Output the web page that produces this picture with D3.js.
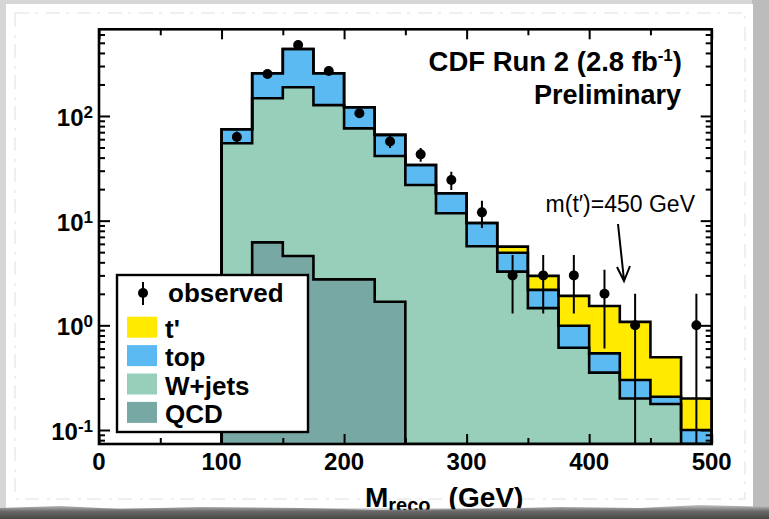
<!DOCTYPE html>
<html>
<head>
<meta charset="utf-8">
<script src="https://cdn.jsdelivr.net/npm/d3@7"></script>
<style>
  body { margin: 0; background: #d4d4d4; }
  svg { display: block; font-family: "Liberation Sans", Arial, sans-serif; }
</style>
</head>
<body>
<div class="chart"></div>
<script>
// Reconstructed mass histogram, 25 GeV bins from 100 to 500 GeV
var binLow = [100, 125, 150, 175, 200, 225, 250, 275, 300, 325, 350, 375, 400, 425, 450, 475];
var binWidth = 25;

// Stacked contributions per bin (events)
var qcd    = [1.5, 6.2, 4.6, 2.75, 2.75, 1.68, 0, 0, 0, 0, 0, 0, 0, 0, 0, 0];
var wjets  = [53.3, 141.3, 183.4, 124.3, 73.3, 39.8, 21.9, 11.75, 5.7, 3.26, 1.46, 0.61, 0.353, 0.20, 0.177, 0.05];
var topQ   = [19.8, 108.5, 248, 129, 45, 24.5, 12.1, 6.55, 3.8, 1.68, 0.72, 0.38, 0.187, 0.10, 0.031, 0.05];
var tprime = [0, 0, 0, 0, 0, 0, 0, 0, 0, 0.71, 0.79, 0.92, 0.99, 0.78, 0.287, 0.10];

// Observed data and error bars (null = no entry)
var observed = [63, 252, 477, 269, 106, 57, 43, 24.5, 12, 3, 3, 3, 2, 1, null, 1];
var obsErr   = [7.9, 15.9, 21.8, 16.4, 10.3, 7.5, 6.5, 4.9, 3.5, 1.7, 1.7, 1.7, 1.4, 1.0, 0, 1.0];

// Axis ticks
var xTicks = [0, 100, 200, 300, 400, 500];
var xMinor = [50, 150, 250, 350, 450];
var yDecades = [-1, 0, 1, 2];

var layerKeys = ["qcd", "wjets", "top", "tprime"];
var layerColors = { qcd: "#78a8a4", wjets: "#97cfba", top: "#5cbaf2", tprime: "#ffea00" };
var legendItems = [
  { key: "tprime", label: "t'" },
  { key: "top", label: "top" },
  { key: "wjets", label: "W+jets" },
  { key: "qcd", label: "QCD" }
];

var svgWidth = 769;
var svgHeight = 519;
var margin = { top: 29.3, right: 57.3, bottom: 75, left: 99 };
var chartWidth = svgWidth - margin.left - margin.right;
var chartHeight = svgHeight - margin.top - margin.bottom;

var svg = d3.select(".chart")
            .append("svg")
            .attr("width", svgWidth)
            .attr("height", svgHeight);

// Paper background with a rough dark edge
var defs = svg.append("defs");
var grad = defs.append("linearGradient").attr("id", "edge").attr("x1", 0).attr("x2", 0).attr("y1", 0).attr("y2", 1);
grad.append("stop").attr("offset", "0%").attr("stop-color", "#c4c4c4");
grad.append("stop").attr("offset", "45%").attr("stop-color", "#6a6a6a");
grad.append("stop").attr("offset", "100%").attr("stop-color", "#474747");
svg.append("rect").attr("width", svgWidth).attr("height", svgHeight).attr("fill", "#d6d6d6");
svg.append("rect").attr("x", 752).attr("y", 0).attr("width", 17).attr("height", svgHeight).attr("fill", "#bcbcbc");
svg.append("rect").attr("x", 6).attr("y", 4).attr("width", 747).attr("height", 504).attr("fill", "#fff");
svg.append("rect").attr("x", 15).attr("y", 13).attr("width", 730).attr("height", 486)
   .attr("fill", "none").attr("stroke", "#e0e0e0").attr("stroke-width", 1).attr("stroke-dasharray", "14 6 3 8");

var chartGroup = svg.append("g")
                    .attr("transform", `translate(${margin.left}, ${margin.top})`);

// Scales
var xScale = d3.scaleLinear().domain([0, 500]).range([0, chartWidth]);
var yMin = 0.0735;
var yScale = d3.scaleLog().domain([yMin, 673]).range([chartHeight, 0]).clamp(true);
function yPos(v) { return yScale(Math.max(v || 0, yMin)); }

// Build stacked layers
var rows = binLow.map(function (lo, i) {
  return { lo: lo, qcd: qcd[i], wjets: wjets[i], top: topQ[i], tprime: tprime[i] };
});
var stacked = d3.stack().keys(layerKeys)(rows);

var clip = defs.append("clipPath").attr("id", "plotclip");
clip.append("rect").attr("width", chartWidth).attr("height", chartHeight);

var histGroup = chartGroup.append("g").attr("clip-path", "url(#plotclip)");

// Step points for each layer
function stepPoints(layer) {
  var pts = [];
  layer.forEach(function (d) {
    pts.push({ x: d.data.lo, y0: d[0], y1: d[1] });
    pts.push({ x: d.data.lo + binWidth, y0: d[0], y1: d[1] });
  });
  return pts;
}

var area = d3.area()
             .x(d => xScale(d.x))
             .y0(d => yPos(d.y0))
             .y1(d => yPos(d.y1));

var line = d3.line()
             .x(d => xScale(d.x))
             .y(d => yPos(d.y1));

stacked.forEach(function (layer) {
  histGroup.append("path")
           .datum(stepPoints(layer))
           .attr("fill", layerColors[layer.key])
           .attr("d", area);
});

stacked.forEach(function (layer) {
  var pts = stepPoints(layer);
  var first = pts[0].x;
  var last = pts[pts.length - 1].x;
  pts.unshift({ x: first, y1: 0 });
  pts.push({ x: last, y1: 0 });
  histGroup.append("path")
           .datum(pts)
           .attr("fill", "none")
           .attr("stroke", "#000")
           .attr("stroke-width", 2.6)
           .attr("stroke-linejoin", "miter")
           .attr("d", line);
});

// Observed points with error bars
var obsData = binLow.map(function (lo, i) {
  return { x: lo + binWidth / 2, v: observed[i], e: obsErr[i] };
}).filter(d => d.v !== null);

histGroup.selectAll(".errbar")
         .data(obsData)
         .enter()
         .append("line")
         .attr("class", "errbar")
         .attr("x1", d => xScale(d.x))
         .attr("x2", d => xScale(d.x))
         .attr("y1", d => yPos(d.v + d.e))
         .attr("y2", d => yPos(d.v - d.e))
         .attr("stroke", "#000")
         .attr("stroke-width", 2);

histGroup.selectAll(".obs")
         .data(obsData)
         .enter()
         .append("circle")
         .attr("class", "obs")
         .attr("cx", d => xScale(d.x))
         .attr("cy", d => yPos(d.v))
         .attr("r", 5)
         .attr("fill", "#000");

// Axes: major and minor ticks on all four sides, pointing inward
var yMinor = [];
yDecades.concat([-2]).forEach(function (dec) {
  for (var m = 2; m <= 9; m++) {
    var v = m * Math.pow(10, dec);
    if (v > yMin && v < 673) yMinor.push(v);
  }
});
var yMajor = yDecades.map(d => Math.pow(10, d));

function addAxis(axisFn, scale, values, size, transform) {
  var g = chartGroup.append("g")
                    .attr("transform", transform)
                    .call(axisFn(scale).tickValues(values).tickSize(size).tickFormat(""));
  g.select(".domain").remove();
  g.selectAll("line").attr("stroke", "#000").attr("stroke-width", 2);
}
addAxis(d3.axisBottom, xScale, xTicks, -10, `translate(0, ${chartHeight})`);
addAxis(d3.axisBottom, xScale, xMinor, -6, `translate(0, ${chartHeight})`);
addAxis(d3.axisTop, xScale, xTicks, -10, "translate(0, 0)");
addAxis(d3.axisTop, xScale, xMinor, -6, "translate(0, 0)");
addAxis(d3.axisLeft, yScale, yMajor, -11, "translate(0, 0)");
addAxis(d3.axisLeft, yScale, yMinor, -6, "translate(0, 0)");
addAxis(d3.axisRight, yScale, yMajor, -11, `translate(${chartWidth}, 0)`);
addAxis(d3.axisRight, yScale, yMinor, -6, `translate(${chartWidth}, 0)`);

// Frame
chartGroup.append("rect")
          .attr("width", chartWidth)
          .attr("height", chartHeight)
          .attr("fill", "none")
          .attr("stroke", "#000")
          .attr("stroke-width", 2.6);

// X tick labels
chartGroup.selectAll(".xlabel")
          .data(xTicks)
          .enter()
          .append("text")
          .attr("class", "xlabel")
          .attr("x", d => xScale(d))
          .attr("y", chartHeight + 26)
          .attr("text-anchor", "middle")
          .style("font-size", "24px")
          .style("font-weight", "bold")
          .text(d => d);

// Y tick labels as 10^n
var yLabels = chartGroup.selectAll(".ylabel")
                        .data(yDecades)
                        .enter()
                        .append("text")
                        .attr("class", "ylabel")
                        .attr("x", -6)
                        .attr("y", d => yScale(Math.pow(10, d)) + 10)
                        .attr("text-anchor", "end")
                        .style("font-weight", "bold");
yLabels.append("tspan").style("font-size", "24px").text("10");
yLabels.append("tspan").style("font-size", "17px").attr("dy", -8).text(d => d < 0 ? "-" + Math.abs(d) : d);

// Axis title (partly hidden by the paper edge, as in the scan)
var xTitle = svg.append("text")
                .attr("x", 365)
                .attr("y", 507)
                .style("font-weight", "bold");
xTitle.append("tspan").style("font-size", "28px").text("M");
xTitle.append("tspan").style("font-size", "20px").attr("dy", 5).text("reco");
xTitle.append("tspan").style("font-size", "28px").attr("dy", -5).attr("dx", 18).text("(GeV)");

// Experiment label
svg.append("text")
   .attr("x", 682).attr("y", 71)
   .attr("text-anchor", "end")
   .style("font-size", "27.5px")
   .style("font-weight", "bold")
   .call(function (t) {
     t.append("tspan").text("CDF Run 2 (2.8 fb");
     t.append("tspan").attr("dy", -10).style("font-size", "17px").text("-1");
     t.append("tspan").attr("dy", 10).text(")");
   });
svg.append("text")
   .attr("x", 681).attr("y", 104)
   .attr("text-anchor", "end")
   .style("font-size", "27px")
   .style("font-weight", "bold")
   .text("Preliminary");

// Signal mass annotation with arrow
svg.append("text")
   .attr("x", 695).attr("y", 212)
   .attr("text-anchor", "end")
   .style("font-size", "23px")
   .text("m(t\u2032)=450 GeV");
svg.append("path")
   .attr("d", "M618,224 L624,280 M617,267 L624,281 L630,266")
   .attr("fill", "none")
   .attr("stroke", "#000")
   .attr("stroke-width", 2);

// Legend
var legend = svg.append("g").attr("transform", "translate(117, 275)");
legend.append("rect")
      .attr("width", 191)
      .attr("height", 157)
      .attr("fill", "#fff")
      .attr("stroke", "#000")
      .attr("stroke-width", 2.4);
legend.append("line")
      .attr("x1", 26).attr("x2", 26).attr("y1", 7).attr("y2", 30)
      .attr("stroke", "#000").attr("stroke-width", 2);
legend.append("circle").attr("cx", 26).attr("cy", 18).attr("r", 5).attr("fill", "#000");
legend.append("text")
      .attr("x", 51).attr("y", 27)
      .style("font-size", "26px")
      .style("font-weight", "bold")
      .text("observed");

var legendRows = legend.selectAll(".leg")
                       .data(legendItems)
                       .enter()
                       .append("g")
                       .attr("class", "leg")
                       .attr("transform", (d, i) => `translate(10, ${41.7 + i * 28.4})`);
legendRows.append("rect")
          .attr("width", 30)
          .attr("height", 21)
          .attr("fill", d => layerColors[d.key]);
legendRows.append("text")
          .attr("x", 38)
          .attr("y", 21)
          .style("font-size", "26px")
          .style("font-weight", "bold")
          .text(d => d.label);

// Dark torn edge at the bottom, drawn over the axis title
svg.append("path")
   .attr("d", "M0,508 L60,506 L120,509 L200,507 L300,508 L380,510 L470,509 L560,507 L640,508 L700,505 L769,507 L769,519 L0,519 Z")
   .attr("fill", "url(#edge)");
</script>
</body>
</html>
